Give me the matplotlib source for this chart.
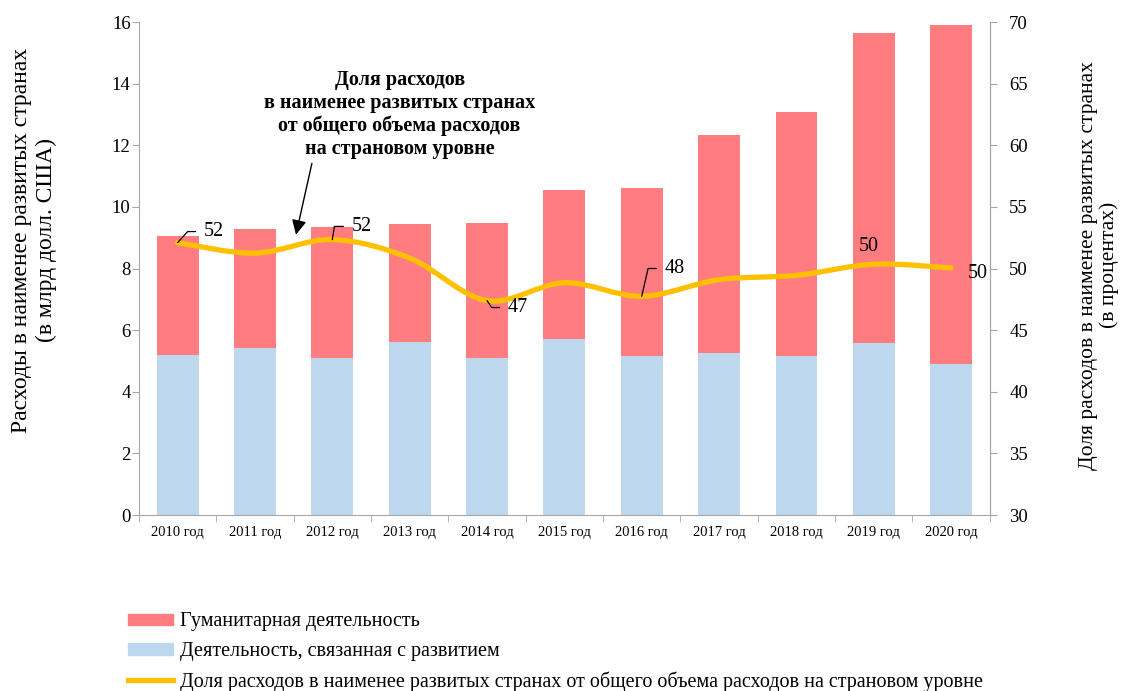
import numpy as np
import matplotlib
matplotlib.use('Agg')
import matplotlib.pyplot as plt
from matplotlib.path import Path
from matplotlib.patches import PathPatch, Patch
from matplotlib.lines import Line2D

plt.rcParams['font.family'] = ['Liberation Serif', 'DejaVu Serif']

years = ["2010 год", "2011 год", "2012 год", "2013 год", "2014 год", "2015 год",
         "2016 год", "2017 год", "2018 год", "2019 год", "2020 год"]
development = [5.18, 5.42, 5.10, 5.62, 5.10, 5.70, 5.15, 5.25, 5.15, 5.57, 4.90]
total = [9.05, 9.28, 9.35, 9.45, 9.48, 10.55, 10.60, 12.33, 13.07, 15.65, 15.90]
humanitarian = [t - d for t, d in zip(total, development)]
share = [52.1, 51.25, 52.35, 50.85, 47.4, 48.85, 47.75, 49.1, 49.45, 50.35, 50.05]

# which points get a label: (index, text, offset in points, leader angle or None)
share_labels = [
    (0, "52", (19, 8), 48),
    (2, "52", (14, 9.5), 81),
    (4, "47", (15, -5), -56),
    (6, "48", (16.5, 20), 77),
    (9, "50", (-11, 13), None),
    (10, "50", (12, -4), None),
]

red = "#FF7C80"
blue = "#BDD7EE"
gold = "#FFC000"
grey = "#A6A6A6"

fig = plt.figure(figsize=(11.26, 6.91), dpi=100)
ax = fig.add_axes([0.1234, 0.2547, 0.7556, 0.7133])
ax2 = ax.twinx()

x = np.arange(len(years))
w = 0.54
ax.bar(x, development, w, color=blue, zorder=2)
ax.bar(x, humanitarian, w, bottom=development, color=red, zorder=2)

ax.set_xlim(-0.5, len(years) - 0.5)
ax.set_ylim(0, 16)
ax.set_yticks(np.arange(0, 17, 2))
ax2.set_ylim(30, 70)
ax2.set_yticks(np.arange(30, 71, 5))

ax.set_xticks(x)
ax.set_xticklabels(years, fontsize=10.5)
ax.set_xticks(np.arange(-0.5, len(years), 1), minor=True)
ax.tick_params(axis='x', which='major', length=0, pad=8)
ax.tick_params(axis='x', which='minor', length=5, color=grey, direction='out')
ax.tick_params(axis='y', labelsize=13.5, length=5, color=grey, pad=1)
ax2.tick_params(axis='y', labelsize=13.5, length=5, color=grey, pad=9)

for a in (ax, ax2):
    a.spines['top'].set_visible(False)
    for s in ('left', 'right', 'bottom'):
        a.spines[s].set_color(grey)
ax2.spines['left'].set_visible(False)
ax2.spines['bottom'].set_visible(False)

ax.set_ylabel("Расходы в наименее развитых странах\n(в млрд долл. США)",
              fontsize=17, linespacing=1.25)
ax.yaxis.set_label_coords(-0.0964, 0.558)
ax2.set_ylabel("Доля расходов в наименее развитых странах\n(в процентах)",
               fontsize=15.5, linespacing=1.1)
ax2.yaxis.set_label_coords(1.1045, 0.507)

# smoothed line (Catmull-Rom segments as cubic Bezier)
pts = np.column_stack([x, share]).astype(float)
verts = [pts[0]]
codes = [Path.MOVETO]
n = len(pts)
for i in range(n - 1):
    p0 = pts[max(i - 1, 0)]
    p1 = pts[i]
    p2 = pts[i + 1]
    p3 = pts[min(i + 2, n - 1)]
    verts += [p1 + (p2 - p0) / 6, p2 - (p3 - p1) / 6, p2]
    codes += [Path.CURVE4] * 3
ax2.add_patch(PathPatch(Path(verts, codes), facecolor='none', edgecolor=gold,
                        lw=3.8, capstyle='round', zorder=3))

for i, txt, off, ang in share_labels:
    if ang is None:
        ax2.annotate(txt, (x[i], share[i]), xytext=off, textcoords='offset points',
                     fontsize=14.5, ha='left', va='center')
    else:
        ax2.annotate(txt, (x[i], share[i]), xytext=off, textcoords='offset points',
                     fontsize=14.5, ha='left', va='center',
                     arrowprops=dict(arrowstyle='-', color='black', lw=0.9,
                                     shrinkA=4, shrinkB=0,
                                     relpos=(0, 0.5),
                                     connectionstyle=f"angle,angleA=0,angleB={ang},rad=0"))

ax.annotate("Доля расходов\nв наименее развитых странах\nот общего объема расходов\nна страновом уровне",
            xy=(1.53, 9.1), xytext=(2.87, 13.0), textcoords='data',
            fontsize=14.5, fontweight='bold', ha='center', va='center', linespacing=1.2,
            arrowprops=dict(arrowstyle='-|>', color='black', lw=1, mutation_scale=22,
                            relpos=(0.18, 0), shrinkA=1, shrinkB=0))

handles = [Patch(color=red), Patch(color=blue), Line2D([], [], color=gold, lw=3.8)]
labels = ["Гуманитарная деятельность", "Деятельность, связанная с развитием",
          "Доля расходов в наименее развитых странах от общего объема расходов на страновом уровне"]
fig.legend(handles, labels, loc='upper left', bbox_to_anchor=(0.0995, 0.137),
           frameon=False, fontsize=14.5, handlelength=2.25, handleheight=0.5,
           handletextpad=0.3, labelspacing=0.52, borderpad=0.3)

fig.savefig("out.png", dpi=100)
